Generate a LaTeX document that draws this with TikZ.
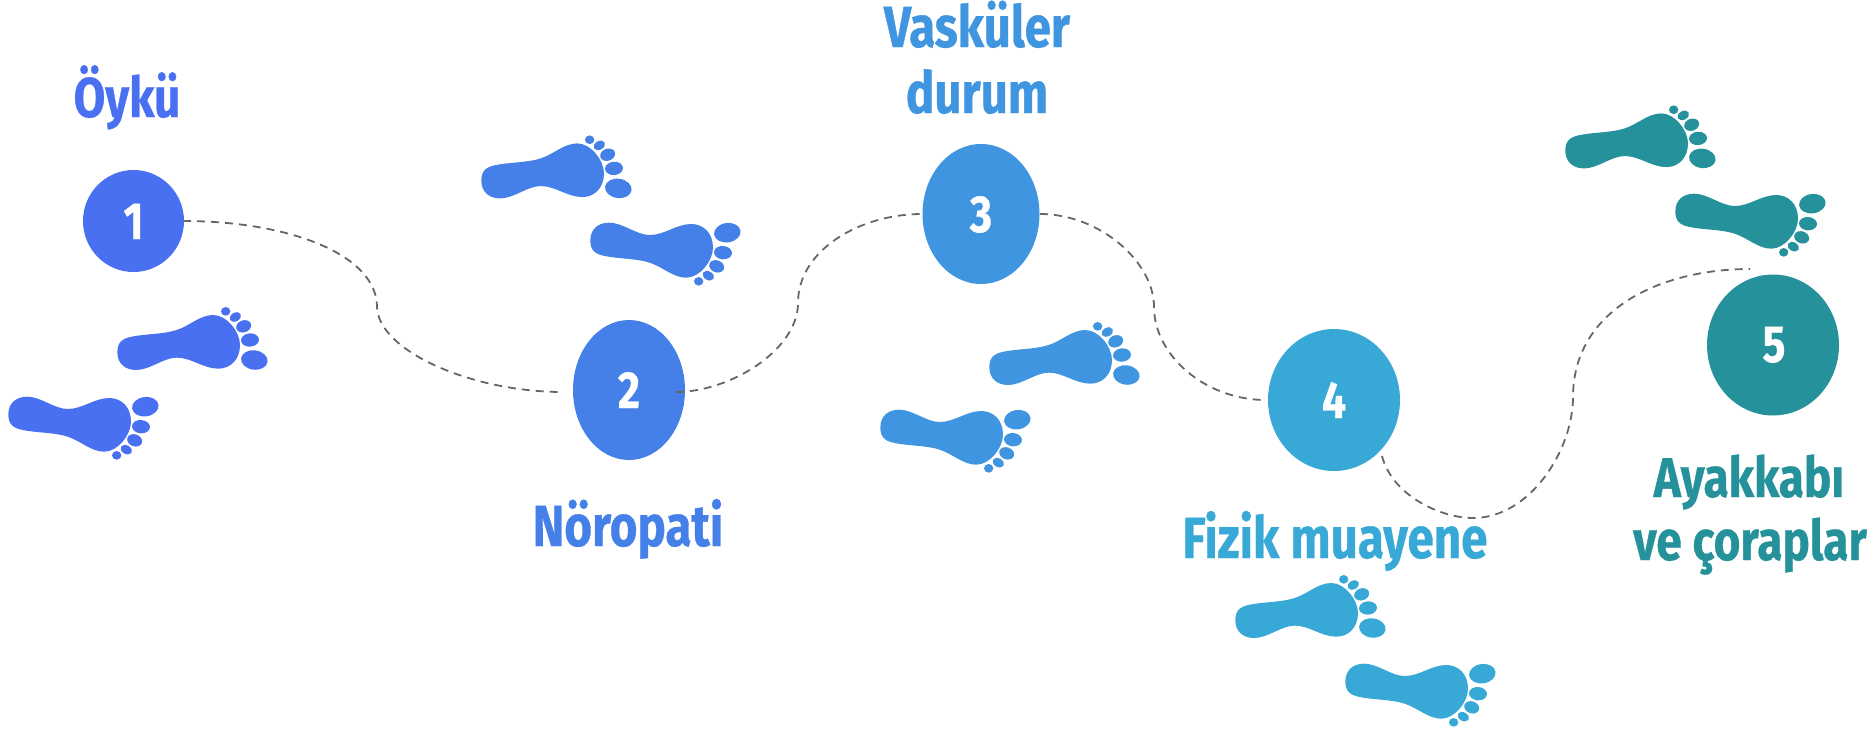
\documentclass[tikz,border=0pt]{standalone}
\usepackage{fontspec}
\newfontfamily\labfont[FakeStretch=0.82,BoldFeatures={FakeBold=0.6}]{Fira Sans}
\definecolor{cA}{HTML}{4A70F2}
\definecolor{cB}{HTML}{4480E8}
\definecolor{cC}{HTML}{3F95DF}
\definecolor{cD}{HTML}{38A9D6}
\definecolor{cE}{HTML}{25919B}
\definecolor{cLine}{HTML}{666666}
\newcommand{\footmark}[4]{%
\begin{scope}[shift={(#1,#2)},x=.33333pt,y=-.33333pt,yscale=#3]
\fill[#4] (352,187) .. controls (352,158) and (365,146) .. (395,140)
 .. controls (440,131) and (490,133) .. (530,120)
 .. controls (570,107) and (600,75) .. (640,75)
 .. controls (680,75) and (720,125) .. (720,165)
 .. controls (720,210) and (690,236) .. (655,236)
 .. controls (610,236) and (575,203) .. (530,203)
 .. controls (490,203) and (450,240) .. (408,240)
 .. controls (375,240) and (352,220) .. cycle;
\fill[#4] (763,210) ellipse [x radius=40,y radius=29,rotate=-8];
\fill[#4] (750,150) ellipse [x radius=27,y radius=20,rotate=5];
\fill[#4] (731,109) ellipse [x radius=23,y radius=18,rotate=20];
\fill[#4] (706,81) ellipse [x radius=18,y radius=13,rotate=30];
\fill[#4] (677,64) ellipse [x radius=14,y radius=13];
\end{scope}}
\tikzset{
  numlabel/.style={text=white,font=\labfont\bfseries\fontsize{52}{52}\selectfont,inner sep=0pt,anchor=base},
  titlelabel/.style={font=\labfont\bfseries\fontsize{58}{58}\selectfont,inner sep=0pt,anchor=base},
  smalltitle/.style={font=\labfont\bfseries\fontsize{56}{56}\selectfont,inner sep=0pt,anchor=base},
  trail/.style={draw=cLine,line width=1.8pt,dash pattern=on 8pt off 6pt},
}
\begin{document}
\begin{tikzpicture}[x=1pt,y=-1pt]
\useasboundingbox (0,0) rectangle (1874,729);
% feet
\footmark{0}{290}{1}{cA}
\footmark{-109}{476.67}{-1}{cA}
\footmark{364}{118.4}{1}{cB}
\footmark{473}{302.67}{-1}{cB}
\footmark{872}{305}{1}{cC}
\footmark{763}{489.67}{-1}{cC}
\footmark{1118}{558}{1}{cD}
\footmark{1228}{743.67}{-1}{cD}
\footmark{1448}{88.4}{1}{cE}
\footmark{1558}{273.67}{-1}{cE}
% step blobs
\fill[cA] (133.5,221) ellipse [x radius=50.5,y radius=51];
\fill[cB] (629,390) ellipse [x radius=56,y radius=70];
\fill[cC] (981,214) ellipse [x radius=58.5,y radius=70];
\fill[cD] (1334,400) ellipse [x radius=66,y radius=71];
\fill[cE] (1773,345) ellipse [x radius=66,y radius=70.5];
\coordinate (e1) at (183,221);
\coordinate (s2) at (563,392);
\coordinate (e2) at (676,392);
\coordinate (s3) at (922,214);
\coordinate (e3) at (1040,214);
\coordinate (s4) at (1266,400);
\coordinate (e4) at (1382,456);
\coordinate (s5) at (1750,269);
\coordinate (m1) at (377,307);
\coordinate (m2) at (798,303);
\coordinate (m3) at (1154,307);
\coordinate (m4a) at (1473,518);
\coordinate (m4b) at (1573,397);
\draw[trail] (e1) .. controls (290,221) and (377,255) .. (m1)
  .. controls (378,350) and (470,392) .. (s2);
\draw[trail] (e2) .. controls (730,392) and (798,350) .. (m2)
  .. controls (798,250) and (860,214) .. (s3);
\draw[trail] (e3) .. controls (1100,214) and (1154,262) .. (m3)
  .. controls (1154,355) and (1205,400) .. (s4);
\draw[trail] (e4) .. controls (1392,495) and (1440,518) .. (m4a)
  .. controls (1530,518) and (1573,450) .. (m4b)
  .. controls (1573,310) and (1660,269) .. (s5);
% numbers
\node[numlabel] (n1) at (133.5,239) {1};
\node[numlabel] (n2) at (629,408) {2};
\node[numlabel] (n3) at (981,232) {3};
\node[numlabel] (n4) at (1334,418) {4};
\node[numlabel] (n5) at (1774,362) {5};
% titles
\node[smalltitle,text=cA] (t1) at (127,117) {Öykü};
\node[titlelabel,text=cB] (t2) at (628,546) {Nöropati};
\node[titlelabel,text=cC] (t3a) at (977,47) {Vasküler};
\node[titlelabel,text=cC] (t3b) at (977,113) {durum};
\node[titlelabel,text=cD] (t4) at (1335,558) {Fizik muayene};
\node[smalltitle,text=cE] (t5a) at (1749,497) {Ayakkabı};
\node[smalltitle,text=cE] (t5b) at (1750,560) {ve çoraplar};
\end{tikzpicture}
\end{document}
